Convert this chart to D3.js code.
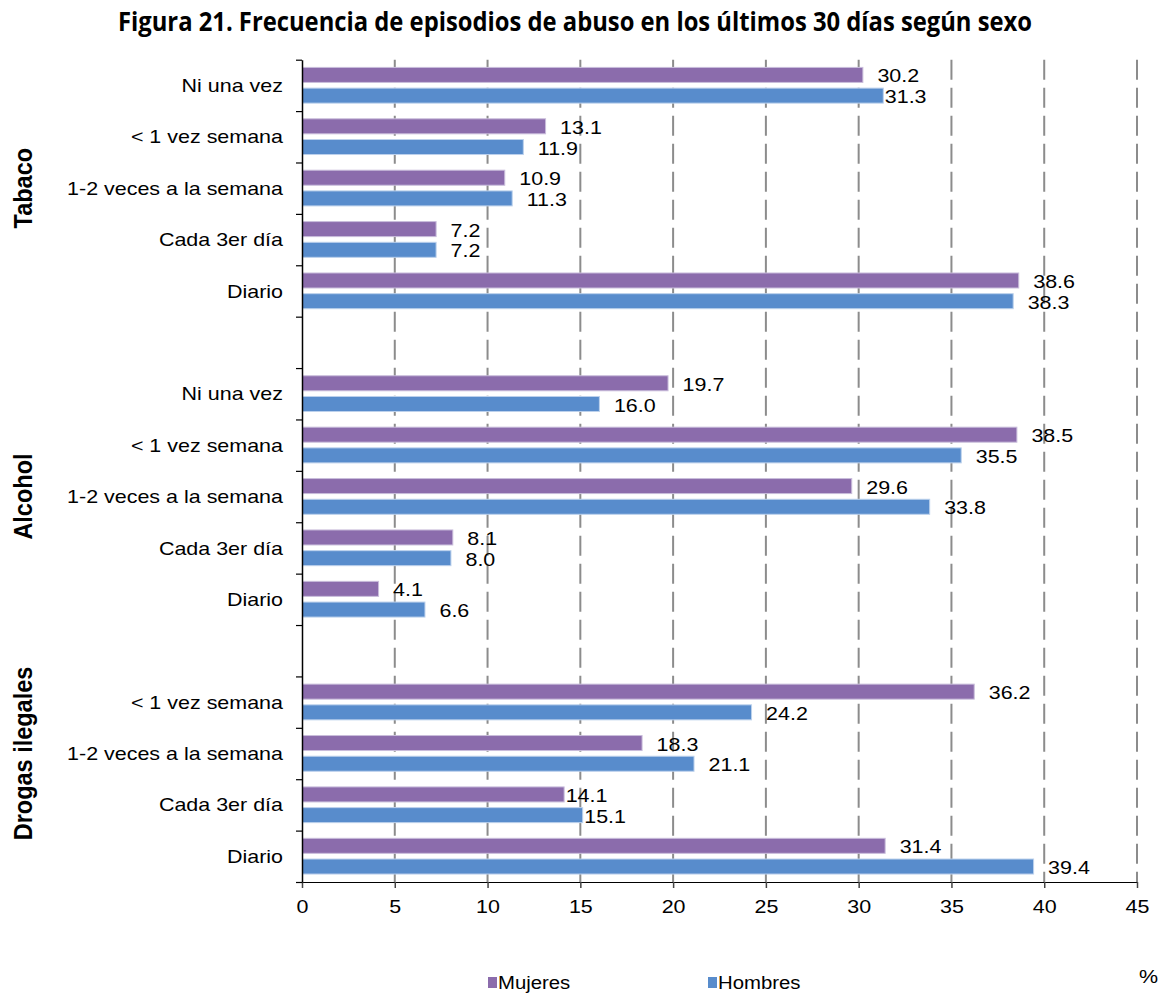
<!DOCTYPE html>
<html>
<head>
<meta charset="utf-8">
<script src="https://cdn.jsdelivr.net/npm/d3@7"></script>
<style>
  html, body { margin: 0; padding: 0; background: #ffffff; }
  svg { display: block; }
</style>
</head>
<body>
<div id="chart"></div>
<script>
// ---------------- DATA ----------------
const title = "Figura 21. Frecuencia de episodios de abuso en los últimos 30 días según sexo";
const seriesNames = ["Mujeres", "Hombres"];
const groupNames = ["Tabaco", "Alcohol", "Drogas ilegales"];

const tabacoCats = ["Ni una vez", "< 1 vez semana", "1-2 veces a la semana", "Cada 3er día", "Diario"];
const tabacoMujeres = [30.2, 13.1, 10.9, 7.2, 38.6];
const tabacoHombres = [31.3, 11.9, 11.3, 7.2, 38.3];

const alcoholCats = ["Ni una vez", "< 1 vez semana", "1-2 veces a la semana", "Cada 3er día", "Diario"];
const alcoholMujeres = [19.7, 38.5, 29.6, 8.1, 4.1];
const alcoholHombres = [16.0, 35.5, 33.8, 8.0, 6.6];

// Drogas: first category has no label and no data
const drogasCats = ["", "< 1 vez semana", "1-2 veces a la semana", "Cada 3er día", "Diario"];
const drogasMujeres = [null, 36.2, 18.3, 14.1, 31.4];
const drogasHombres = [null, 24.2, 21.1, 15.1, 39.4];

const xTicks = [0, 5, 10, 15, 20, 25, 30, 35, 40, 45];
const unitLabel = "%";

// ---------------- LAYOUT / STYLE ----------------
const W = 1159, H = 993;
const colors = { "Mujeres": "#8b6cac", "Hombres": "#588ccc" };
const strokes = { "Mujeres": "#c9bddb", "Hombres": "#bcd1ec" };
const FONT = "'Liberation Sans', Arial, sans-serif";
const SX = 1.13; // horizontal stretch of the reference text
const LABEL_GAP = 15;
// labels that sit right against their bar end in the reference
const labelGapOverride = { "Tabaco|0|Hombres": 2, "Drogas ilegales|3|Mujeres": 2, "Drogas ilegales|3|Hombres": 2 };

const plot = { left: 302, right: 1137, top: 59.7, bottom: 882 };

// build slot list (with a spacer between Tabaco and Alcohol)
const groupsData = [
  { name: groupNames[0], cats: tabacoCats, m: tabacoMujeres, h: tabacoHombres },
  { name: groupNames[1], cats: alcoholCats, m: alcoholMujeres, h: alcoholHombres },
  { name: groupNames[2], cats: drogasCats, m: drogasMujeres, h: drogasHombres }
];
const slots = [];
const groupSpans = [];
groupsData.forEach((g, gi) => {
  const start = slots.length;
  g.cats.forEach((c, i) => {
    slots.push({ key: g.name + "|" + i, label: c, group: g.name, Mujeres: g.m[i], Hombres: g.h[i] });
  });
  groupSpans.push({ name: g.name, first: slots[start].key, last: slots[slots.length - 1].key });
  if (gi === 0) slots.push({ key: "spacer" + gi, label: "", group: null, Mujeres: null, Hombres: null });
});

const svg = d3.select("#chart").append("svg").attr("width", W).attr("height", H);

const x = d3.scaleLinear().domain([0, 45]).range([plot.left, plot.right]);
const y = d3.scaleBand().domain(slots.map(d => d.key)).range([plot.top, plot.bottom]).padding(0);
const bw = y.bandwidth();
const sub = d3.scaleBand().domain(seriesNames).range([bw * 0.15, bw * 0.845]).paddingInner(0.275);

// Title
svg.append("text")
  .attr("x", 118).attr("y", 31)
  .attr("textLength", 914).attr("lengthAdjust", "spacingAndGlyphs")
  .style("font-family", "'Open Sans', sans-serif")
  .style("font-weight", "bold").style("font-size", "27px").style("fill", "#000")
  .text(title);

// Gridlines
svg.append("g").selectAll("line")
  .data(xTicks.filter(t => t > 0))
  .join("line")
  .attr("x1", d => x(d)).attr("x2", d => x(d))
  .attr("y1", plot.top).attr("y2", plot.bottom)
  .attr("stroke", "#8c8c8c").attr("stroke-width", 2)
  .attr("stroke-dasharray", "20,8");

// Bars
const barG = svg.append("g");
seriesNames.forEach(s => {
  barG.selectAll(null)
    .data(slots.filter(d => d[s] != null))
    .join("rect")
    .attr("x", x(0) + 0.5)
    .attr("y", d => y(d.key) + sub(s))
    .attr("width", d => x(d[s]) - x(0))
    .attr("height", sub.bandwidth())
    .attr("fill", colors[s])
    .attr("stroke", strokes[s]).attr("stroke-width", 1);
});

// Data labels
function stretchedText(sel, fx, fy, size) {
  return sel.attr("transform", d => `translate(${fx(d)},${fy(d)}) scale(${SX},1)`)
    .style("font-family", FONT).style("font-size", size + "px").style("fill", "#000");
}
seriesNames.forEach(s => {
  const lab = svg.append("g").selectAll("text")
    .data(slots.filter(d => d[s] != null))
    .join("text")
    .attr("dominant-baseline", "central")
    .text(d => d3.format(".1f")(d[s]));
  stretchedText(lab,
    d => x(d[s]) + (labelGapOverride[d.key + "|" + s] ?? LABEL_GAP),
    d => y(d.key) + sub(s) + sub.bandwidth() / 2 + 1, 19);
});

// X axis
const xAxis = svg.append("g")
  .attr("transform", `translate(0,${plot.bottom})`)
  .call(d3.axisBottom(x).tickValues(xTicks).tickSize(6).tickSizeOuter(0).tickPadding(12));
xAxis.select(".domain").attr("stroke", "#000").attr("stroke-width", 1.2);
xAxis.selectAll(".tick line").attr("stroke", "#444").attr("stroke-width", 1.5);
xAxis.selectAll(".tick text")
  .attr("transform", `scale(${SX},1)`)
  .style("font-family", FONT).style("font-size", "19px").style("fill", "#000");

// Y axis (ticks at category boundaries)
const yBound = d3.scaleLinear().domain([0, slots.length]).range([plot.top, plot.bottom]);
const yAxis = svg.append("g")
  .attr("transform", `translate(${plot.left},0)`)
  .call(d3.axisLeft(yBound).tickValues(d3.range(0, slots.length + 1)).tickFormat("").tickSize(6).tickSizeOuter(0));
yAxis.select(".domain").attr("stroke", "#000").attr("stroke-width", 1.5);
yAxis.selectAll(".tick line").attr("stroke", "#000").attr("stroke-width", 1.2);

// Category labels
const catLab = svg.append("g").selectAll("text")
  .data(slots.filter(d => d.label))
  .join("text")
  .attr("text-anchor", "end")
  .attr("dominant-baseline", "central")
  .text(d => d.label);
stretchedText(catLab, d => 283, d => y(d.key) + bw / 2, 19);

// Group labels (rotated)
svg.append("g").selectAll("text")
  .data(groupSpans)
  .join("text")
  .attr("text-anchor", "middle")
  .attr("dominant-baseline", "central")
  .attr("transform", d => {
    const cy = (y(d.first) + y(d.last) + bw) / 2;
    return `translate(22,${cy}) scale(${SX},1) rotate(-90)`;
  })
  .style("font-family", FONT).style("font-weight", "bold").style("font-size", "23.5px").style("fill", "#000")
  .text(d => d.name);

// Legend
const legendPos = { "Mujeres": 488, "Hombres": 708 };
const leg = svg.append("g");
seriesNames.forEach(s => {
  leg.append("rect").attr("x", legendPos[s]).attr("y", 977).attr("width", 9).attr("height", 11).attr("fill", colors[s]);
  leg.append("text")
    .attr("transform", `translate(${legendPos[s] + 10},989) scale(${SX},1)`)
    .style("font-family", FONT).style("font-size", "18px").style("fill", "#000")
    .text(s);
});
svg.append("text")
  .attr("transform", `translate(1139,983) scale(${SX},1)`)
  .style("font-family", FONT).style("font-size", "19px").style("fill", "#000")
  .text(unitLabel);
</script>
</body>
</html>
